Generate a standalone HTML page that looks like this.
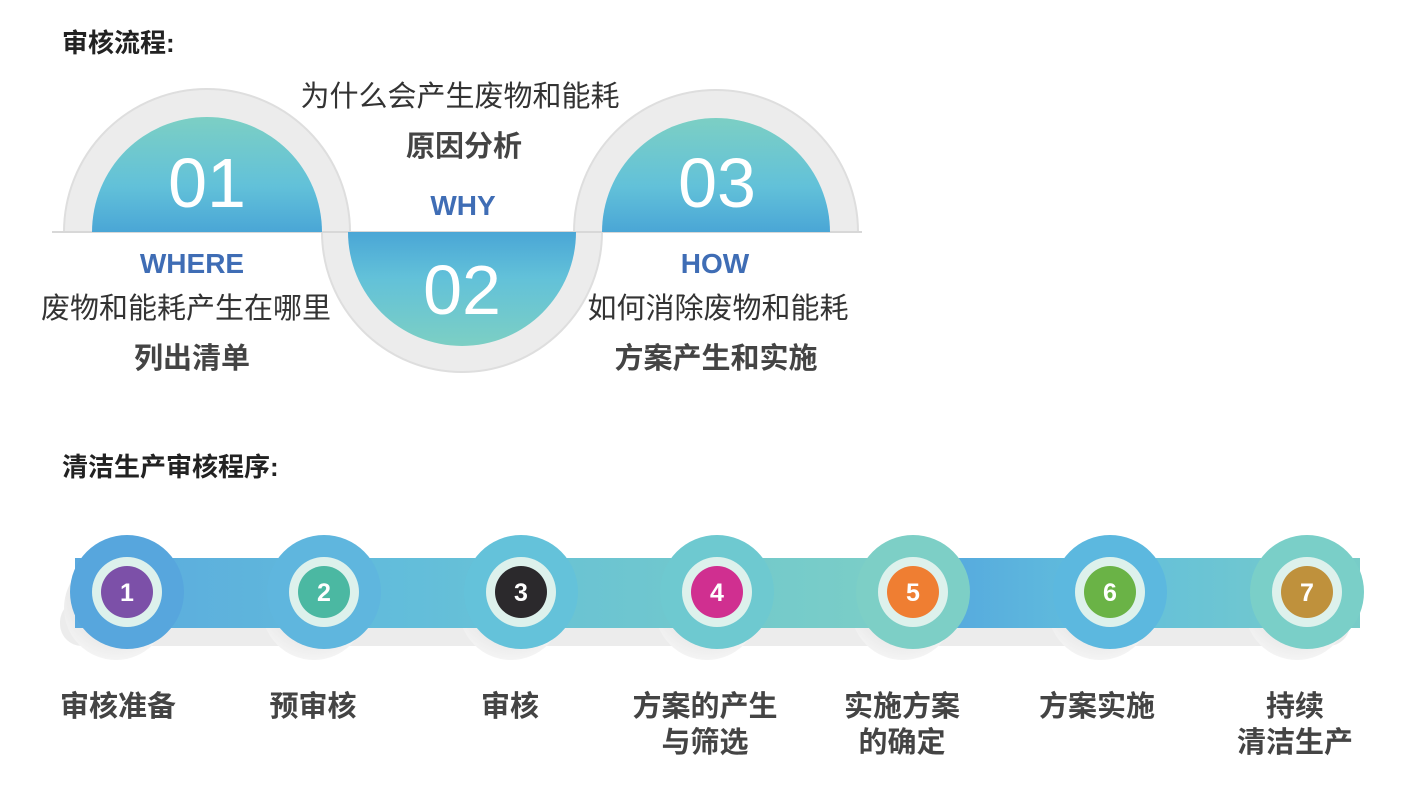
<!DOCTYPE html>
<html><head><meta charset="utf-8"><style>
html,body{margin:0;padding:0;background:#fff;}
svg{display:block;}
text{font-family:"Liberation Sans","Noto Sans CJK SC",sans-serif;}
</style></head><body>
<svg width="1413" height="802" viewBox="0 0 1413 802" xmlns="http://www.w3.org/2000/svg">
<defs>
<linearGradient id="gUp" x1="0" y1="0" x2="0" y2="1">
<stop offset="0" stop-color="#7ccfc4"/><stop offset="0.6" stop-color="#62c1d9"/><stop offset="1" stop-color="#4aa6d6"/></linearGradient>
<linearGradient id="gDn" x1="0" y1="0" x2="0" y2="1">
<stop offset="0" stop-color="#4aa6d6"/><stop offset="0.4" stop-color="#62c1d9"/><stop offset="1" stop-color="#7ccfc4"/></linearGradient>
<linearGradient id="bar" x1="0" y1="0" x2="1" y2="0">
<stop offset="0" stop-color="#5aa9de"/><stop offset="0.25" stop-color="#62bddb"/><stop offset="0.5" stop-color="#72c9cc"/><stop offset="0.66" stop-color="#7dcfc6"/>
<stop offset="0.67" stop-color="#55a8de"/><stop offset="0.8" stop-color="#62bfdc"/><stop offset="1" stop-color="#78ccc8"/></linearGradient>
<radialGradient id="sh" cx="0.5" cy="0.4" r="0.6"><stop offset="0.6" stop-color="#e6e6e6"/><stop offset="1" stop-color="#f4f4f4"/></radialGradient>
</defs>

<text x="62" y="52" font-size="26" font-weight="bold" fill="#222">审核流程:</text>

<g fill="none" stroke="#ececec" stroke-width="28">
<path d="M78 232 A129 129 0 0 1 336 232 A126 126 0 0 0 588 232 A128 128 0 0 1 844 232"/>
</g>
<g fill="none" stroke="#dedede" stroke-width="2">
<path d="M64 232 A143 143 0 0 1 350 232"/>
<path d="M574 232 A142 142 0 0 1 858 232"/>
<path d="M322 232 A140 140 0 0 0 602 232"/>
</g>
<line x1="52" y1="232" x2="862" y2="232" stroke="#d8d8d8" stroke-width="2"/>
<path d="M92 232 A115 115 0 0 1 322 232 Z" fill="url(#gUp)"/>
<path d="M602 232 A114 114 0 0 1 830 232 Z" fill="url(#gUp)"/>
<path d="M348 232 A114 114 0 0 0 576 232 Z" fill="url(#gDn)"/>
<text x="207" y="207" font-size="70" fill="#fff" text-anchor="middle">01</text>
<text x="717" y="207" font-size="70" fill="#fff" text-anchor="middle">03</text>
<text x="462" y="314" font-size="70" fill="#fff" text-anchor="middle">02</text>

<g font-weight="bold" fill="#3f6db5" text-anchor="middle" font-size="28">
<text x="192" y="273">WHERE</text><text x="463" y="215">WHY</text><text x="715" y="273">HOW</text></g>
<g fill="#333" text-anchor="middle" font-size="29">
<text x="460" y="106">为什么会产生废物和能耗</text>
<text x="186" y="318">废物和能耗产生在哪里</text>
<text x="718" y="318">如何消除废物和能耗</text></g>
<g fill="#444" text-anchor="middle" font-size="29" font-weight="bold">
<text x="464" y="156">原因分析</text>
<text x="192" y="368">列出清单</text>
<text x="716" y="368">方案产生和实施</text></g>

<text x="62" y="476" font-size="26" font-weight="bold" fill="#222">清洁生产审核程序:</text>

<rect x="60" y="600" width="1290" height="46" rx="22" fill="#ececec"/>
<g fill="url(#sh)">
<circle cx="116" cy="608" r="52"/><circle cx="314" cy="608" r="52"/><circle cx="511" cy="608" r="52"/><circle cx="707" cy="608" r="52"/><circle cx="903" cy="608" r="52"/><circle cx="1100" cy="608" r="52"/><circle cx="1297" cy="608" r="52"/></g>
<rect x="75" y="558" width="1285" height="70" fill="url(#bar)"/>
<g>
<circle cx="127" cy="592" r="57" fill="#57a6dd"/>
<circle cx="324" cy="592" r="57" fill="#5fb6de"/>
<circle cx="521" cy="592" r="57" fill="#64c2da"/>
<circle cx="717" cy="592" r="57" fill="#6ec9d0"/>
<circle cx="913" cy="592" r="57" fill="#7dcfc6"/>
<circle cx="1110" cy="592" r="57" fill="#5cb8df"/>
<circle cx="1307" cy="592" r="57" fill="#7acfc8"/>
</g>
<g fill="#ddf1ec">
<circle cx="127" cy="592" r="35"/><circle cx="324" cy="592" r="35"/><circle cx="521" cy="592" r="35"/><circle cx="717" cy="592" r="35"/><circle cx="913" cy="592" r="35"/><circle cx="1110" cy="592" r="35"/><circle cx="1307" cy="592" r="35"/></g>
<circle cx="127" cy="592" r="26" fill="#7c50a8"/>
<circle cx="324" cy="592" r="26" fill="#4bb8a2"/>
<circle cx="521" cy="592" r="26" fill="#2b292c"/>
<circle cx="717" cy="592" r="26" fill="#d02f90"/>
<circle cx="913" cy="592" r="26" fill="#ef7e32"/>
<circle cx="1110" cy="592" r="26" fill="#6ab346"/>
<circle cx="1307" cy="592" r="26" fill="#bf913c"/>
<g fill="#fff" font-size="25" font-weight="bold" text-anchor="middle">
<text x="127" y="601">1</text><text x="324" y="601">2</text><text x="521" y="601">3</text><text x="717" y="601">4</text><text x="913" y="601">5</text><text x="1110" y="601">6</text><text x="1307" y="601">7</text></g>

<g fill="#444" font-size="29" font-weight="bold" text-anchor="middle">
<text x="118" y="716">审核准备</text>
<text x="313" y="716">预审核</text>
<text x="510" y="716">审核</text>
<text x="705" y="716">方案的产生</text><text x="705" y="752">与筛选</text>
<text x="902" y="716">实施方案</text><text x="902" y="752">的确定</text>
<text x="1097" y="716">方案实施</text>
<text x="1295" y="716">持续</text><text x="1295" y="752">清洁生产</text>
</g>
</svg>
</body></html>
